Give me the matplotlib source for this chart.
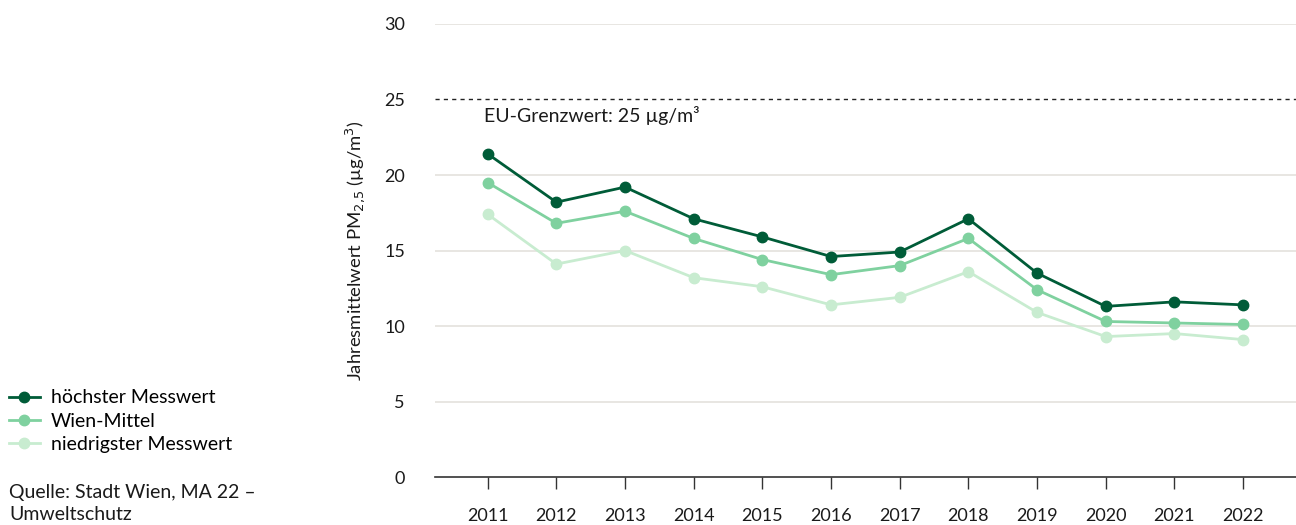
import matplotlib
matplotlib.use("Agg")
import matplotlib.pyplot as plt
from matplotlib.lines import Line2D

plt.rcParams["font.family"] = ["Lato", "DejaVu Sans"]

years = [2011, 2012, 2013, 2014, 2015, 2016, 2017, 2018, 2019, 2020, 2021, 2022]
hoechster = [21.4, 18.2, 19.2, 17.1, 15.9, 14.6, 14.9, 17.1, 13.5, 11.3, 11.6, 11.4]
wien_mittel = [19.5, 16.8, 17.6, 15.8, 14.4, 13.4, 14.0, 15.8, 12.4, 10.3, 10.2, 10.1]
niedrigster = [17.4, 14.1, 15.0, 13.2, 12.6, 11.4, 11.9, 13.6, 10.9, 9.3, 9.5, 9.1]
series_labels = ["höchster Messwert", "Wien-Mittel", "niedrigster Messwert"]
grenzwert = 25
y_ticks = [0, 5, 10, 15, 20, 25, 30]

COLORS = ["#005c38", "#7fd19f", "#c8ecd0"]
TXT = "#1a1a1a"

fig = plt.figure(figsize=(12.96, 5.25), dpi=100)
ax = fig.add_axes([0.336, 0.0914, 0.664, 0.8629])

# grid lines (except at 25, which is the dashed limit)
for v in y_ticks[1:]:
    if v != grenzwert:
        ax.axhline(v, color="#e2dfda", linewidth=1.1, zorder=1)
ax.axhline(grenzwert, color="#222222", linewidth=1.0, linestyle=(0, (3, 3)), zorder=1)
ax.text(2010.94, 23.95, "EU-Grenzwert: 25 µg/m³", fontsize=14, color=TXT,
        ha="left", va="center")

# draw light series first so the dark one sits on top
for vals, col in zip([niedrigster, wien_mittel, hoechster], COLORS[::-1]):
    ax.plot(years, vals, color=col, linewidth=2.0, marker="o", markersize=7.5,
            zorder=3)

ax.set_xlim(2010.24, 2022.77)
ax.set_ylim(0, 30)
ax.set_xticks(years)
ax.set_xticklabels([str(y) for y in years])
ax.set_yticks(y_ticks)

for s in ["left", "right", "top"]:
    ax.spines[s].set_visible(False)
ax.spines["bottom"].set_color("#333333")
ax.spines["bottom"].set_linewidth(1.2)
ax.tick_params(axis="x", direction="out", length=8.5, width=1.0, color="#333333",
               pad=14, labelsize=13, labelcolor=TXT)
ax.tick_params(axis="y", length=0, pad=22, labelsize=13, labelcolor=TXT)

ax.set_ylabel("Jahresmittelwert PM$_{2{,}5}$ (µg/m$^3$)", fontsize=13.3,
              color=TXT, labelpad=12)

# legend on the left of the figure
handles = [Line2D([0], [0], color=c, linewidth=2.0, marker="o", markersize=7.5)
           for c in COLORS]
fig.legend(handles, series_labels, loc="upper left", bbox_to_anchor=(0.0, 0.275),
           frameon=False, fontsize=14, handlelength=1.6, handletextpad=0.55,
           labelspacing=0.33, borderaxespad=0.0, borderpad=0.45)

fig.text(0.007, 0.041, "Quelle: Stadt Wien, MA 22 –\nUmweltschutz", fontsize=14,
         color=TXT, ha="left", va="center", linespacing=1.35)

fig.savefig("out.png", dpi=100, facecolor="white")
